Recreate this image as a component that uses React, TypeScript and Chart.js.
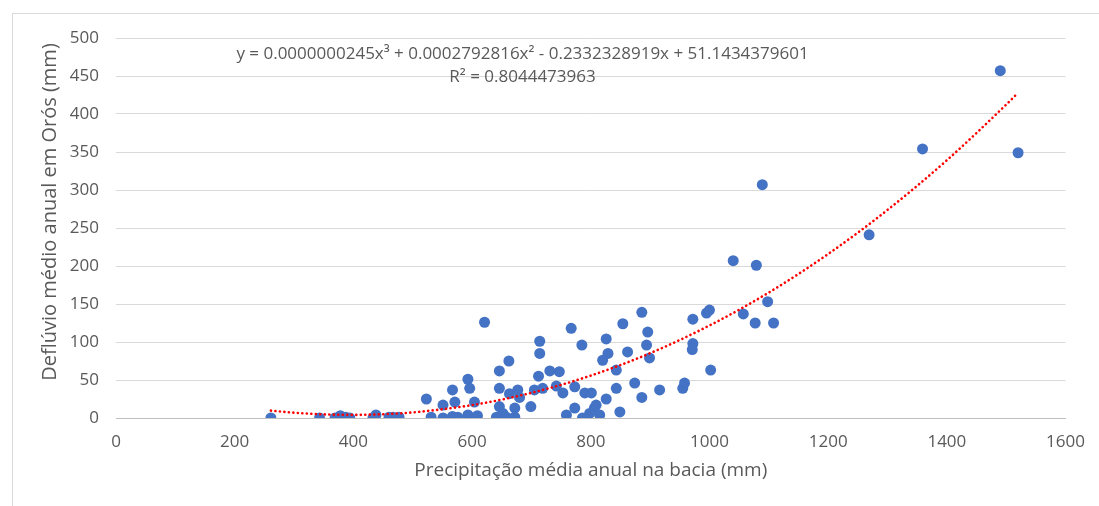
import { useEffect, useRef } from "react";
import { Chart, registerables } from "chart.js";

Chart.register(...registerables);

// Observed points: annual precipitation (mm) vs annual runoff (mm)
const precipitation = [
  261, 343, 369, 378, 387, 394, 433, 438, 460, 467, 477,
  523, 531, 551, 551, 567, 571, 567, 576, 593, 596, 604, 593, 609,
  621, 641, 646, 662, 646, 663, 646, 652, 658, 672, 672, 677, 680,
  699, 705, 712, 714, 714, 719, 731, 742, 747, 753, 767, 759, 773,
  773, 785, 786, 790, 801, 798, 806, 809, 815, 826, 829, 820, 826,
  843, 843, 849, 854, 862, 874, 886, 886, 896, 894, 899, 916, 955,
  958, 972, 972, 971, 995, 1000, 1002, 1040, 1057, 1077, 1079, 1089,
  1098, 1108, 1269, 1359, 1490, 1520,
];
const runoff = [
  0, 0, 0, 3, 1, 0, 0, 4, 1, 1, 1,
  25, 1, 0, 17, 37, 21, 2, 1, 51, 39, 21, 4, 3,
  126, 1, 62, 75, 39, 32, 15, 6, 1, 13, 1, 37, 27,
  15, 37, 55, 101, 85, 39, 62, 42, 61, 33, 118, 4, 13,
  41, 96, 0, 33, 33, 6, 13, 17, 4, 104, 85, 76, 25,
  63, 39, 8, 124, 87, 46, 139, 27, 113, 96, 79, 37, 39,
  46, 130, 98, 90, 138, 142, 63, 207, 137, 125, 201, 307,
  153, 125, 241, 354, 457, 349,
];

// Polynomial trend line (order 3)
const trendPrecip = [261, 300, 350, 400, 450, 500, 600, 700, 800, 900, 1000, 1100, 1200, 1300, 1400, 1500, 1520];
const trendRunoff = [9.7, 7.0, 4.8, 4.1, 5.0, 7.4, 17.0, 33.1, 55.8, 85.3, 121.7, 165.1, 215.8, 273.8, 339.2, 412.4, 427.9];

const xTicks = [0, 200, 400, 600, 800, 1000, 1200, 1400, 1600];
const yTicks = [0, 50, 100, 150, 200, 250, 300, 350, 400, 450, 500];

const equationText = "y = 0.0000000245x³ + 0.0002792816x² - 0.2332328919x + 51.1434379601";
const r2Text = "R² = 0.8044473963";
const labelAnchor = [685, 479, 448]; // x value, y value of equation, y value of R²

const xTitle = "Precipitação média anual na bacia (mm)";
const yTitle = "Deflúvio médio anual em Orós (mm)";

const FONT = "'Open Sans', 'Noto Sans', sans-serif";
const TEXT_COLOR = "#595959";

const textPlugin = {
  id: "extraText",
  afterDatasetsDraw(chart: any) {
    const { ctx, scales, chartArea } = chart;
    const x = scales.x.getPixelForValue(labelAnchor[0]);
    const y1 = scales.y.getPixelForValue(labelAnchor[1]);
    const y2 = scales.y.getPixelForValue(labelAnchor[2]);
    ctx.save();
    ctx.font = `17px ${FONT}`;
    ctx.fillStyle = TEXT_COLOR;
    ctx.textAlign = "center";
    ctx.textBaseline = "middle";
    ctx.fillText(equationText, x, y1);
    ctx.fillText(r2Text, x, y2);
    // vertical axis title
    ctx.font = `20px ${FONT}`;
    ctx.translate(50, (chartArea.top + chartArea.bottom) / 2 - 16);
    ctx.rotate(-Math.PI / 2);
    ctx.fillText(yTitle, 0, 0);
    ctx.restore();
  },
};

export default function App() {
  const canvasRef = useRef<HTMLCanvasElement | null>(null);

  useEffect(() => {
    if (!canvasRef.current) return;
    const points = precipitation.map((p, i) => ({ x: p, y: runoff[i] }));
    const trend = trendPrecip.map((p, i) => ({ x: p, y: trendRunoff[i] }));
    const chart = new Chart(canvasRef.current, {
      type: "scatter",
      data: {
        datasets: [
          {
            type: "line",
            label: "Tendência",
            data: trend,
            borderColor: "#FF0000",
            borderWidth: 2.6,
            borderDash: [0.1, 4.4],
            borderCapStyle: "round",
            pointRadius: 0,
            fill: false,
            cubicInterpolationMode: "monotone",
          } as any,
          {
            label: "Dados",
            data: points,
            backgroundColor: "#4472C4",
            borderColor: "#4472C4",
            pointRadius: 5.5,
            pointBorderWidth: 0,
          },
        ],
      },
      options: {
        animation: false,
        responsive: true,
        maintainAspectRatio: false,
        layout: { padding: { left: 40, top: 38, right: 32, bottom: 0 } },
        plugins: {
          legend: { display: false },
          tooltip: { enabled: false },
        },
        scales: {
          x: {
            type: "linear",
            min: 0,
            max: 1600,
            afterBuildTicks: (scale: any) => {
              scale.ticks = xTicks.map((v) => ({ value: v }));
            },
            afterFit: (scale: any) => {
              scale.height = 88;
            },
            grid: { display: false, drawTicks: false },
            border: { display: true, color: "#BFBFBF", width: 1 },
            ticks: {
              padding: 14,
              color: TEXT_COLOR,
              font: { family: FONT, size: 17 },
              callback: (v: any) => String(v),
            },
            title: {
              display: true,
              text: xTitle,
              color: TEXT_COLOR,
              font: { family: FONT, size: 19 },
              padding: { top: 0, bottom: 24 },
            },
          },
          y: {
            type: "linear",
            min: 0,
            max: 500,
            afterBuildTicks: (scale: any) => {
              scale.ticks = yTicks.map((v) => ({ value: v }));
            },
            afterFit: (scale: any) => {
              scale.width = 76;
            },
            grid: { color: "#D9D9D9", lineWidth: 1, drawTicks: false },
            border: { display: false },
            ticks: {
              padding: 17,
              color: TEXT_COLOR,
              font: { family: FONT, size: 17 },
              callback: (v: any) => String(v),
            },
            title: { display: false },
          },
        },
      },
      plugins: [textPlugin],
    });
    return () => chart.destroy();
  }, []);

  return (
    <div
      style={{
        position: "absolute",
        left: 0,
        top: 0,
        width: 1099,
        height: 506,
        overflow: "hidden",
        background: "#FFFFFF",
      }}
    >
      <div
        style={{
          position: "absolute",
          left: 12,
          top: 13,
          width: 1200,
          height: 600,
          border: "1px solid #D9D9D9",
          boxSizing: "border-box",
        }}
      />
      <div style={{ position: "absolute", left: 0, top: 0, width: 1099, height: 506 }}>
        <canvas ref={canvasRef} />
      </div>
    </div>
  );
}
